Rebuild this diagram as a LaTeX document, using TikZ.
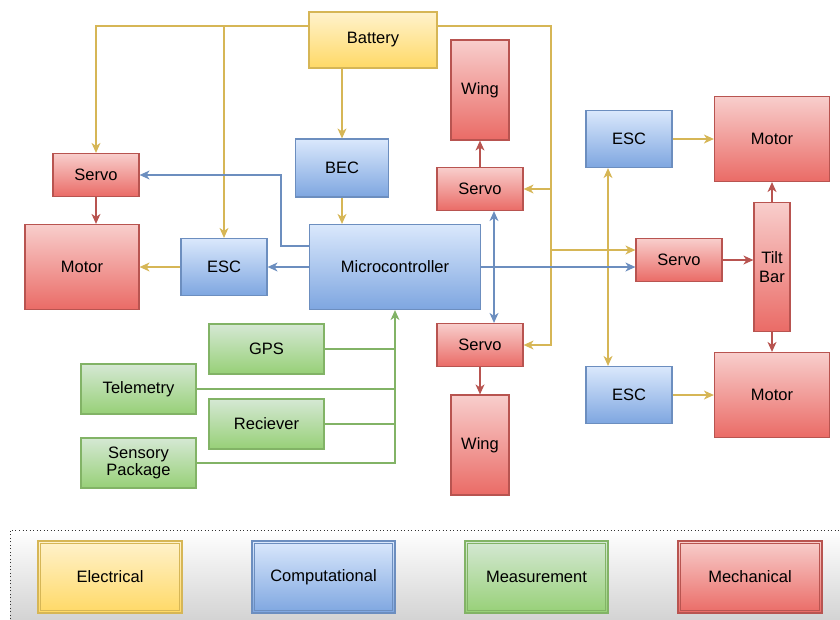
\documentclass[tikz,border=0pt]{standalone}
\usepackage{fontspec}
\setmainfont{Liberation Sans}
\usetikzlibrary{arrows.meta}
\definecolor{elecT}{HTML}{FFF2CC}\definecolor{elecB}{HTML}{FFD966}\definecolor{elecD}{HTML}{D6B656}
\definecolor{compT}{HTML}{DAE8FC}\definecolor{compB}{HTML}{7EA6E0}\definecolor{compD}{HTML}{6C8EBF}
\definecolor{measT}{HTML}{D5E8D4}\definecolor{measB}{HTML}{97D077}\definecolor{measD}{HTML}{82B366}
\definecolor{mechT}{HTML}{F8CECC}\definecolor{mechB}{HTML}{EA6B66}\definecolor{mechD}{HTML}{B85450}
\tikzset{
  ct/.tip={Stealth[length=10pt,width=9pt,inset=3pt]},
  box/.style={draw, line width=1.2pt, inner sep=1pt, text=black, align=center,
    font=\fontsize{16.5}{19}\selectfont},
  elec/.style={box, top color=elecT, bottom color=elecB, draw=elecD},
  comp/.style={box, top color=compT, bottom color=compB, draw=compD},
  meas/.style={box, top color=measT, bottom color=measB, draw=measD},
  mech/.style={box, top color=mechT, bottom color=mechB, draw=mechD},
  sz/.style 2 args={minimum width=#1pt, minimum height=#2pt},
  con/.style={line width=1.35pt, -ct},
  ycon/.style={con, draw=elecD},
  bcon/.style={con, draw=compD},
  gcon/.style={con, draw=measD},
  rcon/.style={con, draw=mechD},
}
\begin{document}
\begin{tikzpicture}[x=1pt,y=-1pt]
\useasboundingbox (0,0) rectangle (840,619);
% legend background
\shade[top color=white, bottom color=black!17] (10,530) rectangle (840,619);
\draw[black!80, line width=0.9pt, dash pattern=on 0.9pt off 2.6pt] (10,619) -- (10,530) -- (840,530);

% nodes
\node[elec, sz={128}{56}] (bat) at (373,40) {Battery};
\node[mech, sz={86}{43}] (servoL) at (96,175) {Servo};
\node[mech, sz={114}{85}] (motorL) at (82,267) {Motor};
\node[comp, sz={86}{57}] (escL) at (224,267) {ESC};
\node[comp, sz={93}{58}] (bec) at (342,168) {BEC};
\node[comp, sz={171}{85}] (micro) at (395,267) {Microcontroller};
\node[mech, sz={58}{100}] (wingT) at (480,90) {Wing};
\node[mech, sz={86}{43}] (servoMT) at (480,189) {Servo};
\node[mech, sz={86}{43}] (servoMB) at (480,345) {Servo};
\node[mech, sz={58}{100}] (wingB) at (480,445) {Wing};
\node[comp, sz={86}{57}] (escRT) at (629,139) {ESC};
\node[mech, sz={115}{85}] (motorRT) at (772,139) {Motor};
\node[mech, sz={86}{43}] (servoR) at (679,260) {Servo};
\node[mech, sz={36}{129}, inner sep=0pt] (tilt) at (772,267) {Tilt\\Bar};
\node[comp, sz={86}{57}] (escRB) at (629,395) {ESC};
\node[mech, sz={115}{85}] (motorRB) at (772,395) {Motor};
\node[meas, sz={115}{50}] (gps) at (266.5,349) {GPS};
\node[meas, sz={115}{50}] (tele) at (138.5,389) {Telemetry};
\node[meas, sz={115}{50}] (recv) at (266.5,424) {Reciever};
\node[meas, sz={115}{50}, inner sep=0pt] (sens) at (138.5,463) {Sensory\\[-2pt]Package};

% legend
\node[elec, sz={144}{72}] (legE) at (110,577) {Electrical};
\node[comp, sz={143}{72}] (legC) at (323.5,577) {Computational};
\node[meas, sz={143}{72}] (legM) at (536.5,577) {Measurement};
\node[mech, sz={144}{72}] (legK) at (750,577) {Mechanical};
\foreach \n/\c in {legE/elecD, legC/compD, legM/measD, legK/mechD}
  \draw[\c, line width=0.9pt] ([xshift=3pt,yshift=-3pt]\n.north west) rectangle ([xshift=-3pt,yshift=3pt]\n.south east);

% electrical connectors
\coordinate (batL) at ([yshift=14pt]bat.west);
\coordinate (batR) at ([yshift=14pt]bat.east);
\coordinate (ybus) at (551,345);
\draw[ycon] (batL) -| (servoL.north);
\draw[ycon] (escL.north |- batL) -- (escL.north);
\draw[ycon] (bec.north |- bat.south) -- (bec.north);
\draw[ycon] (bec.south) -- (bec.south |- micro.north);
\draw[ycon] (batR) -| (ybus) -- (servoMB.east);
\draw[ycon] (ybus |- servoMT.east) -- (servoMT.east);
\coordinate (yR) at ([yshift=10pt]servoR.west);
\draw[ycon] (ybus |- yR) -- (yR);
\draw[ycon, ct-ct] ([xshift=-21pt]escRT.south) -- ([xshift=-21pt]escRB.north);
\draw[ycon] (escL.west) -- (motorL.east);
\draw[ycon] (escRT.east) -- (motorRT.west);
\draw[ycon] (escRB.east) -- (motorRB.west);

% computational connectors
\coordinate (mcL) at ([yshift=21pt]micro.west);
\coordinate (kink) at (281,0);
\draw[bcon] (mcL) -| (kink |- servoL.east) -- (servoL.east);
\draw[bcon] (micro.west) -- (escL.east);
\draw[bcon] (micro.east) -- (micro.east -| servoR.west);
\draw[bcon, ct-ct] ([xshift=14pt]servoMT.south) -- ([xshift=14pt]servoMB.north);

% mechanical connectors
\draw[rcon] (servoL.south) -- (servoL.south |- motorL.north);
\draw[rcon] (servoMT.north) -- (wingT.south);
\draw[rcon] (servoMB.south) -- (wingB.north);
\draw[rcon] (servoR.east) -- (servoR.east -| tilt.west);
\draw[rcon] (tilt.north) -- (tilt.north |- motorRT.south);
\draw[rcon] (tilt.south) -- (tilt.south |- motorRB.north);

% measurement connectors
\draw[gcon] (sens.east) -| (micro.south);
\draw[gcon, -] (gps.east) -- (gps.east -| micro.south);
\draw[gcon, -] (tele.east) -- (tele.east -| micro.south);
\draw[gcon, -] (recv.east) -- (recv.east -| micro.south);
\end{tikzpicture}
\end{document}
